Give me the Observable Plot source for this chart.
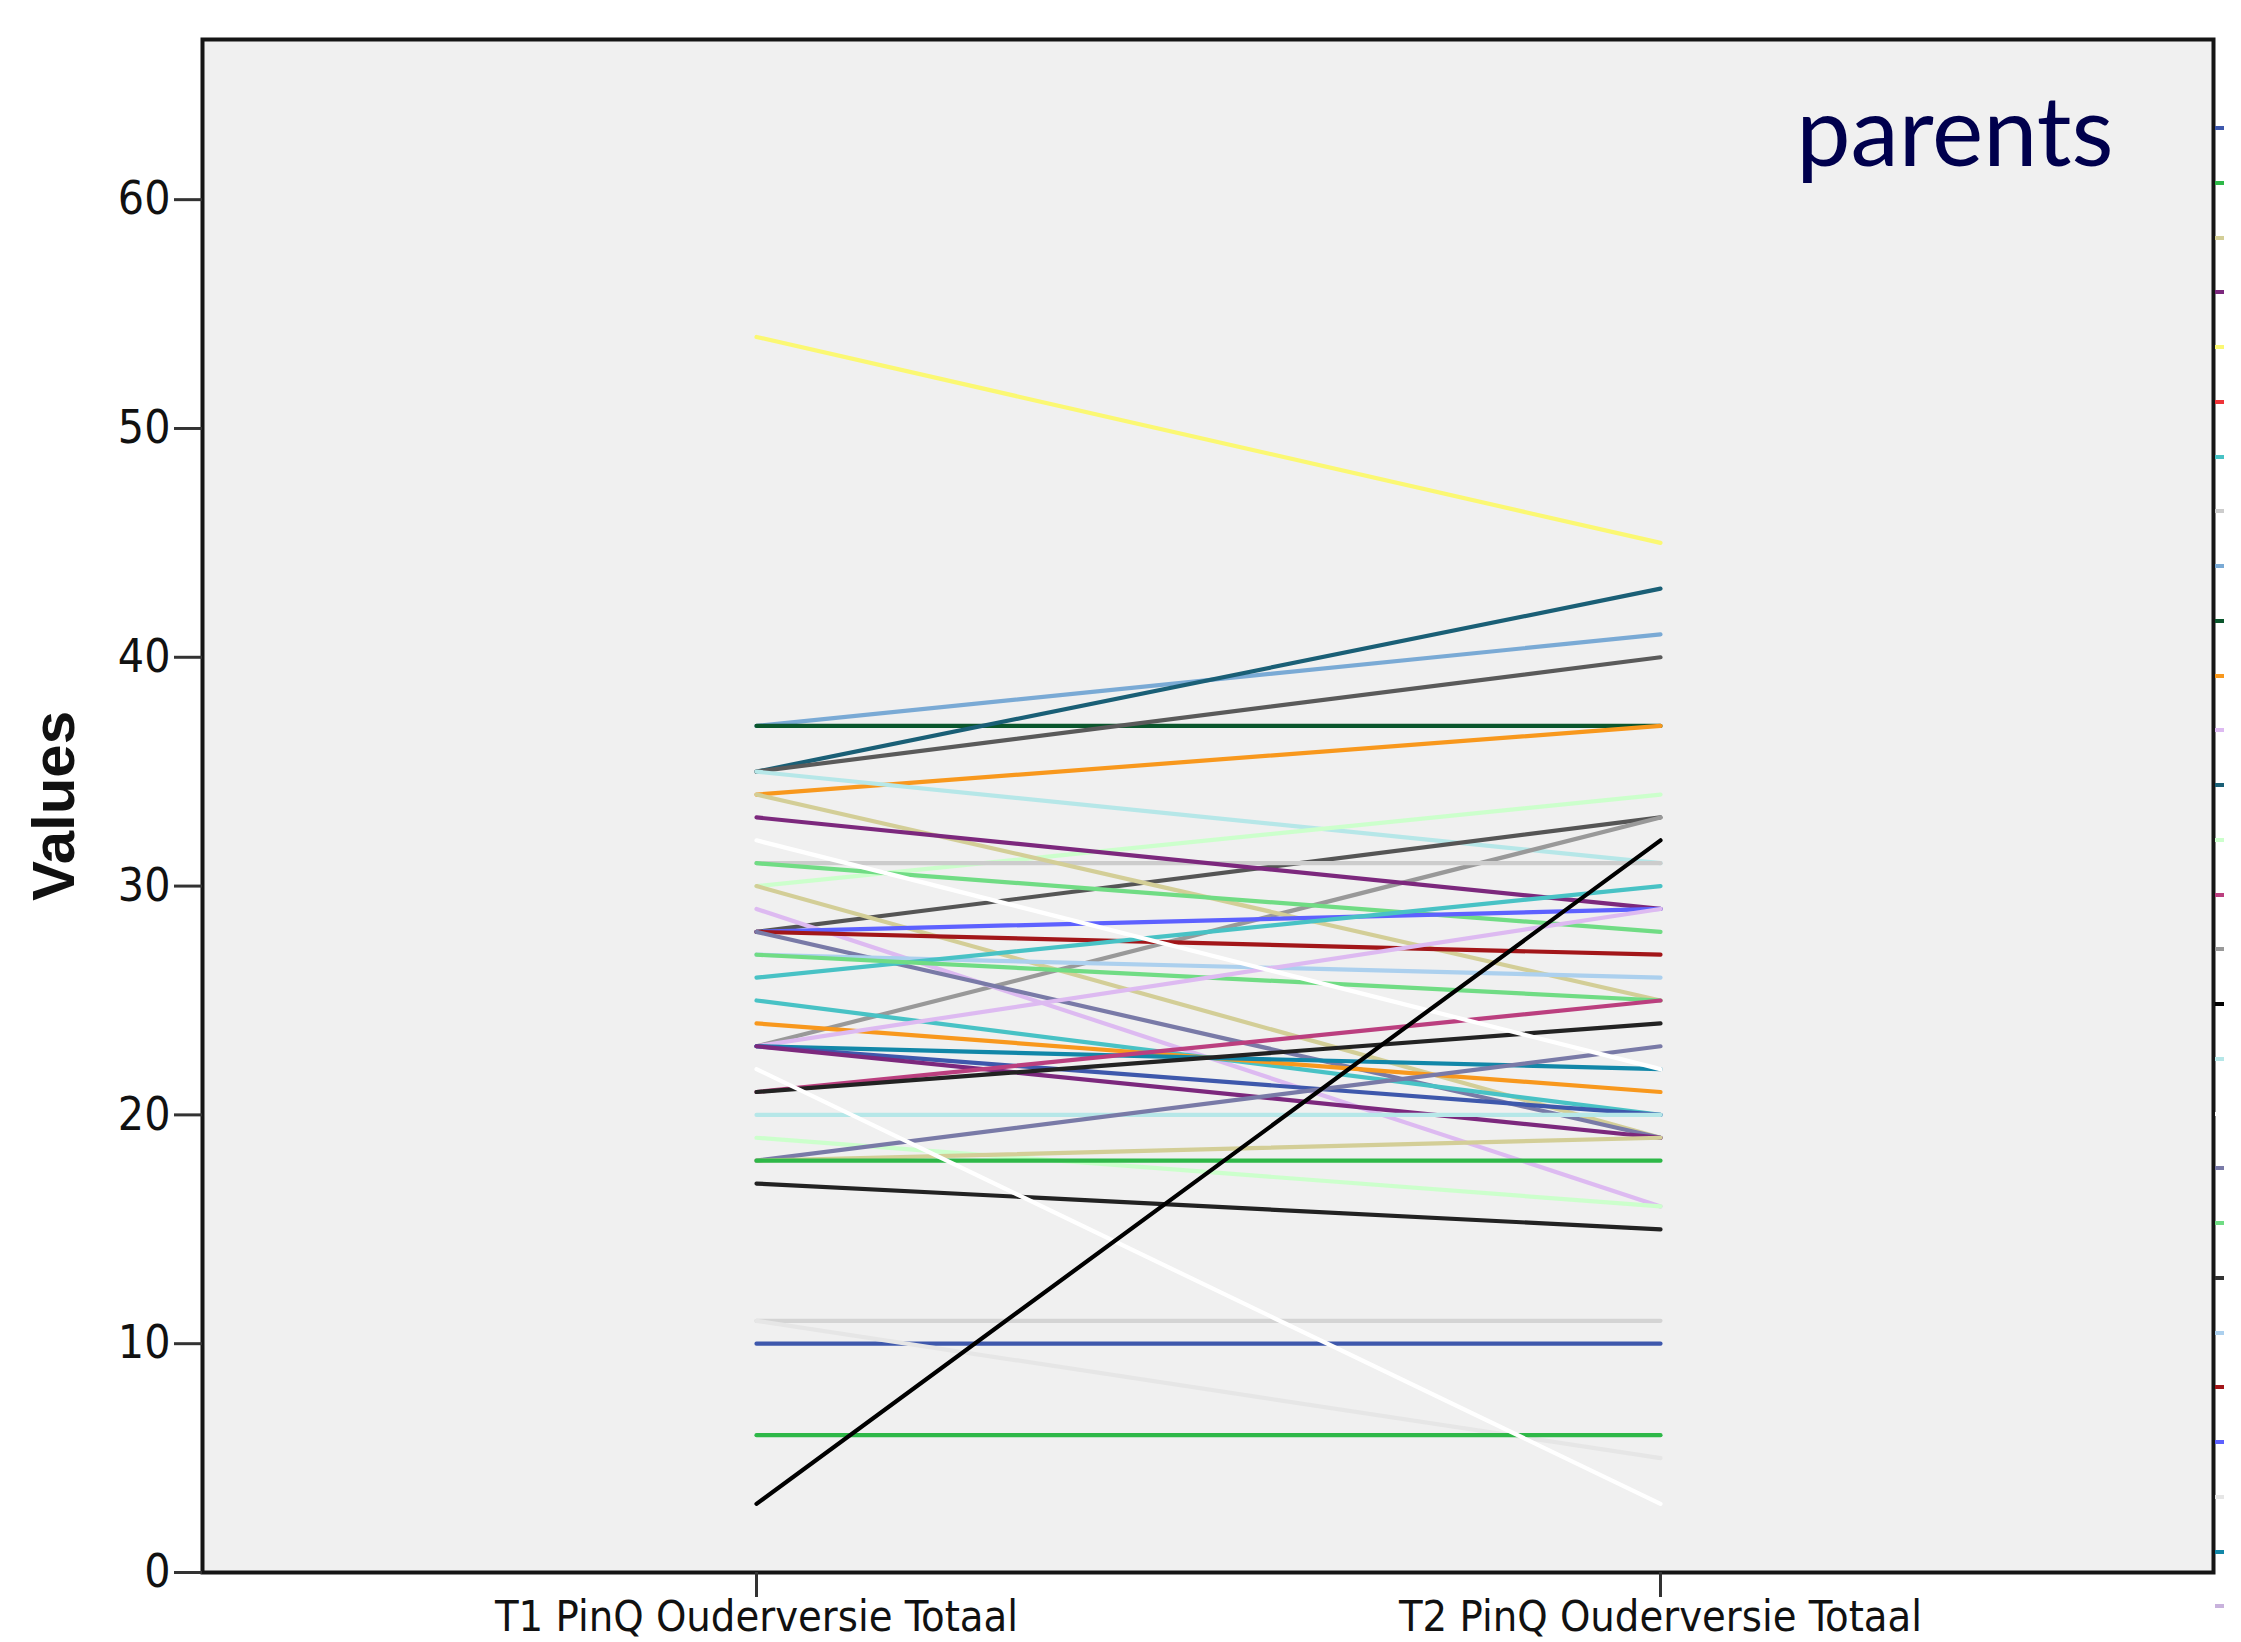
<!DOCTYPE html>
<html>
<head>
<meta charset="utf-8">
<script src="https://cdn.jsdelivr.net/npm/d3@7"></script>
<script src="https://cdn.jsdelivr.net/npm/@observablehq/plot@0.6"></script>
<style>
  html, body { margin: 0; padding: 0; background: #ffffff; }
  #wrap { position: relative; width: 2241px; height: 1642px; overflow: hidden; background: #ffffff; }
  #legend { position: absolute; left: 2215px; top: 0; }
  #legend div { position: absolute; left: 0; width: 9px; height: 4px; }
</style>
</head>
<body>
<div id="wrap"><div id="legend"></div></div>
<script>
// ---- data ----
const timeLabels = ["T1 PinQ Ouderversie Totaal", "T2 PinQ Ouderversie Totaal"];
const yTicks = [0, 10, 20, 30, 40, 50, 60];

// per-case scores at T1 and T2
const t1Values = [54, 37, 37, 35, 35, 34, 35, 30, 28, 23, 31, 34, 33, 31, 30, 29, 28, 28, 28, 27, 26, 27, 25, 24, 23, 23, 23, 23, 21, 21, 20, 19, 18, 18, 18, 17, 11, 10, 11, 6, 32, 22, 3];
const t2Values = [45, 41, 37, 43, 40, 37, 31, 34, 33, 33, 31, 25, 29, 28, 19, 16, 29, 27, 19, 26, 30, 25, 20, 21, 29, 22, 20, 19, 25, 24, 20, 16, 23, 19, 18, 15, 11, 10, 5, 6, 22, 3, 32];
// line colour per case
const caseColors = ["#FBF873", "#7AAAD5", "#0A562C", "#1A5F76", "#5a5a5a", "#F8981D", "#B6E7E8", "#CCFFCC", "#555555", "#999999",
  "#CCCCCC", "#D3CE97", "#7C287D", "#70DC84", "#D3CE97", "#DDBAF1", "#5D61FF", "#A21619", "#797AA7", "#ACD0EE",
  "#48C2C5", "#70DC84", "#48C2C5", "#F8981D", "#DDBAF1", "#1287A8", "#3E58AC", "#7C287D", "#BB3F7F", "#222222",
  "#B6E7E8", "#CCFFCC", "#797AA7", "#D3CE97", "#2EB848", "#222222", "#D4D4D4", "#3E58AC", "#E6E6E6", "#2EB848",
  "#FFFFFF", "#FFFFFF", "#000000"];
// legend swatches visible at the right edge (clipped legend)
const legendColors = ["#3E58AC", "#2EB848", "#D3CE97", "#7C287D", "#FBF873", "#EF3338", "#48C2C5", "#CCCCCC", "#7AAAD5", "#0A562C",
  "#F8981D", "#DDBAF1", "#1A5F76", "#CCFFCC", "#BB3F7F", "#999999", "#000000", "#B6E7E8", "#FFFFFF", "#797AA7",
  "#70DC84", "#333333", "#ACD0EE", "#A21619", "#5D61FF", "#E6E6E6", "#1287A8", "#C8B2DC"];

// ---- table ----
const rows = [];
t1Values.forEach((v, i) => {
  rows.push({case: i, time: timeLabels[0], value: v, color: caseColors[i]});
  rows.push({case: i, time: timeLabels[1], value: t2Values[i], color: caseColors[i]});
});

const narrow = "'Liberation Sans Narrow', 'DejaVu Sans Condensed', 'Liberation Sans', Arial, sans-serif";

const chart = Plot.plot({
  width: 2241,
  height: 1642,
  marginLeft: 202,
  marginRight: 28,
  marginTop: 39,
  marginBottom: 70,
  style: {background: "transparent", fontFamily: narrow, color: "#111"},
  x: {type: "point", domain: timeLabels, padding: 0.612},
  y: {domain: [0, 67]},
  color: {type: "identity"},
  marks: [
    Plot.frame({fill: "#F0F0F0", stroke: null}),
    Plot.line(rows, {x: "time", y: "value", z: "case", stroke: "color", strokeWidth: 4.2}),
    Plot.frame({stroke: "#151515", strokeWidth: 4}),
    Plot.axisY({ticks: yTicks, tickSize: 28, tickPadding: 4, fontSize: 46, label: null, stroke: "#333", strokeWidth: 3, fill: "#111"}),
    Plot.axisX({tickSize: 25, tickPadding: 3, fontSize: 43, label: null, stroke: "#333", strokeWidth: 3, fill: "#111"}),
    Plot.text(["Values"], {frameAnchor: "left", dx: -148, rotate: -90, textAnchor: "middle", fontSize: 60, fontWeight: "bold", fontFamily: "'Liberation Sans', Arial, sans-serif", fill: "#111"}),
    Plot.text(["parents"], {frameAnchor: "top-right", dx: -100, dy: 126, lineAnchor: "bottom", textAnchor: "end", fontSize: 97, fill: "#00004d", fontFamily: "Lato, 'Open Sans', sans-serif"})
  ]
});
document.getElementById("wrap").prepend(chart);

// legend stubs
const legend = document.getElementById("legend");
legendColors.forEach((c, i) => {
  const d = document.createElement("div");
  d.style.top = (126 + i * 54.75) + "px";
  d.style.background = c;
  legend.appendChild(d);
});
</script>
</body>
</html>
